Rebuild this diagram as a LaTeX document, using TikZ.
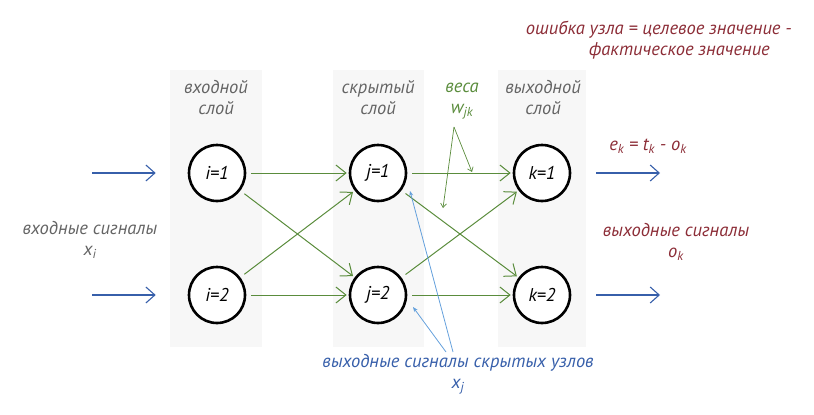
\documentclass[tikz,border=0pt]{standalone}
\usepackage{fontspec}
\setmainfont{PT Sans}
\usetikzlibrary{arrows.meta}
\definecolor{grn}{RGB}{90,140,60}
\definecolor{blu}{RGB}{55,95,170}
\definecolor{lblu}{RGB}{100,160,220}
\definecolor{dred}{RGB}{140,45,55}
\definecolor{gtxt}{RGB}{100,100,100}
\definecolor{colbg}{RGB}{247,247,247}
\begin{document}
\begin{tikzpicture}[x=1pt,y=-1pt,
  font=\itshape\fontsize{18.5}{21}\selectfont,
  neuron/.style={circle, draw=black, line width=2.6pt, minimum size=56pt, inner sep=0pt, fill=white},
  wedge/.style={grn, line width=1pt, -{Straight Barb[length=10pt,width=16pt,line width=1pt]}, shorten >=2pt, shorten <=5pt},
  wptr/.style={grn, line width=0.7pt, -{Straight Barb[length=4pt,width=6pt,line width=0.7pt]}},
  inarr/.style={blu, line width=1.1pt, -{Straight Barb[length=9pt,width=16pt,line width=1.1pt]}},
  ptr/.style={lblu, line width=0.8pt, -{Stealth[length=5pt,width=4pt]}},
  lbl/.style={text=gtxt, align=center},
  rtxt/.style={text=dred, align=center}]
\useasboundingbox (0,0) rectangle (814,415);
% layer backgrounds
\fill[colbg] (170,70) rectangle (262,347);
\fill[colbg] (333,70) rectangle (424,347);
\fill[colbg] (498,70) rectangle (586,347);
% layer labels
\node[lbl] (Lin) at (216,98) {входной\\слой};
\node[lbl] (Lhid) at (378,98) {скрытый\\слой};
\node[lbl] (Lout) at (543,98) {выходной\\слой};
% neurons
\node[neuron] (i1) at (217,173) {i=1};
\node[neuron] (i2) at (217,295) {i=2};
\node[neuron] (j1) at (378,173) {j=1};
\node[neuron] (j2) at (378,295) {j=2};
\node[neuron] (k1) at (542,173) {k=1};
\node[neuron] (k2) at (542,295) {k=2};
% weights
\draw[wedge] (i1) -- (j1);
\draw[wedge] (i1) -- (j2);
\draw[wedge] (i2) -- (j1);
\draw[wedge] (i2) -- (j2);
\draw[wedge] (j1) -- (k1);
\draw[wedge] (j1) -- (k2);
\draw[wedge] (j2) -- (k1);
\draw[wedge] (j2) -- (k2);
% weights label
\node[text=grn, align=center] (wlab) at (462,101) {веса\\w\textsubscript{jk}};
\coordinate (wsrc) at (454,127);
\coordinate (wt1) at (443,208);
\coordinate (wt2) at (472,172);
\draw[wptr] (wsrc) -- (wt1);
\draw[wptr] (wsrc) -- (wt2);
% inputs
\coordinate (in1) at (92,173);
\coordinate (in2) at (92,295);
\draw[inarr] (in1) -- ([xshift=-32pt]i1.west);
\draw[inarr] (in2) -- ([xshift=-32pt]i2.west);
\node[text=gtxt, align=center] (xin) at (90,240) {входные сигналы\\x\textsubscript{i}};
% outputs
\coordinate (out1) at (660,173);
\coordinate (out2) at (660,295);
\draw[inarr] ([xshift=25pt]k1.east) -- (out1);
\draw[inarr] ([xshift=25pt]k2.east) -- (out2);
\node[rtxt] (ek) at (648,146) {e\textsubscript{k} = t\textsubscript{k} - o\textsubscript{k}};
\node[rtxt] (oout) at (676,242) {выходные сигналы\\o\textsubscript{k}};
\node[text=dred, align=right, anchor=north east, inner sep=0pt] (err) at (792,21) {ошибка узла = целевое значение -\\фактическое значение\hspace*{22pt}};
% hidden outputs
\node[text=blu, align=center] (xj) at (458,374) {выходные сигналы скрытых узлов\\x\textsubscript{j}};
\coordinate (xsrc1) at (453,352);
\coordinate (xsrc2) at (446,352);
\coordinate (xt1) at (410,191);
\coordinate (xt2) at (413,307);
\draw[ptr] (xsrc1) -- (xt1);
\draw[ptr] (xsrc2) -- (xt2);
\end{tikzpicture}
\end{document}
